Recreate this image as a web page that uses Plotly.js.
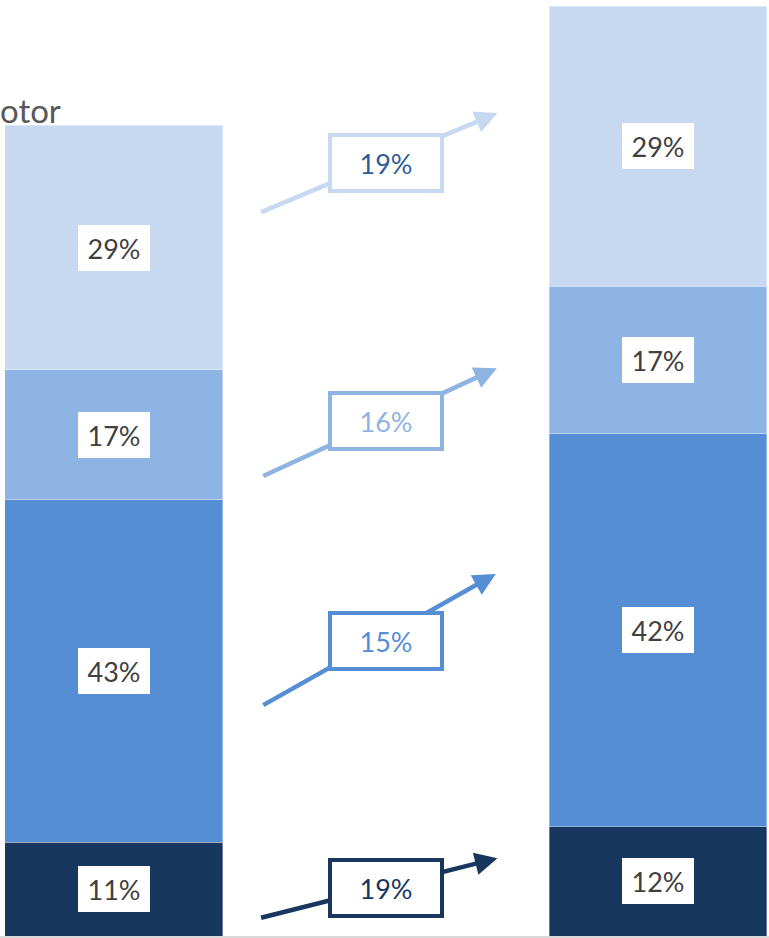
<!DOCTYPE html>
<html><head><meta charset="utf-8">
<script src="https://cdn.plot.ly/plotly-3.0.1.min.js"></script>
<style>html,body{margin:0;padding:0;background:#fff;}#chart{width:769px;height:938px;}</style>
</head><body><div id="chart"></div>
<script>
// ---- data ----
const categories = ['Period 1', 'Period 2'];
const seriesNames = ['Segment D', 'Segment C', 'Segment B', 'Segment A']; // bottom -> top
const valuesP1 = [11.6, 42.3, 16.0, 30.2];
const valuesP2 = [13.5, 48.6, 18.1, 34.6];
const shareLabelsP1 = ['11%', '43%', '17%', '29%'];
const shareLabelsP2 = ['12%', '42%', '17%', '29%'];
const growthLabels = ['19%', '15%', '16%', '19%'];
const titleText = 'otor';

// ---- styles ----
const colors = ['#17375E', '#558ED5', '#8EB4E3', '#C6D9F1'];
const growthTextColors = ['#17375E', '#558ED5', '#8EB4E3', '#2E5C99'];
const FONT = 'Lato, "Open Sans", sans-serif';

const traces = seriesNames.map((name, i) => ({
  type: 'bar',
  name: name,
  x: categories,
  y: [valuesP1[i], valuesP2[i]],
  marker: {color: colors[i], line: {width: 0.6, color: 'rgba(255,255,255,0.6)'}},
  width: 0.4,
  hoverinfo: 'none'
}));

const annotations = [];
// share labels centered in segments
[[valuesP1, shareLabelsP1, 0], [valuesP2, shareLabelsP2, 1]].forEach(([vals, labs, xi]) => {
  let cum = 0;
  vals.forEach((v, i) => {
    annotations.push({
      x: categories[xi], y: cum + v / 2, xref: 'x', yref: 'y',
      text: labs[i], showarrow: false,
      font: {family: FONT, size: 27, color: '#404040'},
      bgcolor: '#ffffff', width: 64, height: 38, borderpad: 4, borderwidth: 0
    });
    cum += v;
  });
});

// growth arrows (layout positions in axis units), bottom -> top
const arrowGeom = [
  {x0: 0.268, y0: 2.2, x1: 0.705, y1: 9.6, ly: 5.9},
  {x0: 0.272, y0: 28.4, x1: 0.702, y1: 44.7, ly: 36.4},
  {x0: 0.272, y0: 56.7, x1: 0.704, y1: 70.1, ly: 63.6},
  {x0: 0.268, y0: 89.3, x1: 0.705, y1: 101.6, ly: 95.4}
];
arrowGeom.forEach((g, i) => {
  annotations.push({
    x: g.x1, y: g.y1, ax: g.x0, ay: g.y0, xref: 'x', yref: 'y', axref: 'x', ayref: 'y',
    text: '', showarrow: true, arrowhead: 2, arrowsize: 1, arrowwidth: 4.5, arrowcolor: colors[i],
    standoff: 0, startstandoff: 0
  });
  annotations.push({
    x: 0.5, y: g.ly, xref: 'x', yref: 'y',
    text: growthLabels[i], showarrow: false,
    font: {family: FONT, size: 27, color: growthTextColors[i]},
    bgcolor: '#ffffff', bordercolor: colors[i], borderwidth: 4, borderpad: 4,
    width: 100, height: 44
  });
});

annotations.push({
  xref: 'paper', yref: 'paper', x: -0.003, y: 1, xanchor: 'left', yanchor: 'top', yshift: -88,
  text: titleText, showarrow: false,
  font: {family: FONT, size: 33, color: '#595959'}
});

const layout = {
  width: 769, height: 938,
  margin: {l: 0, r: 0, t: 0, b: 2, pad: 0},
  paper_bgcolor: '#ffffff', plot_bgcolor: '#ffffff',
  barmode: 'stack', showlegend: false,
  xaxis: {type: 'category', range: [-0.209, 1.204], showticklabels: false, ticks: '',
          showgrid: false, zeroline: false, showline: true, linecolor: '#D9D9D9', linewidth: 1.5},
  yaxis: {range: [0, 115.56], showticklabels: false, showgrid: false, zeroline: false, ticks: ''},
  annotations: annotations
};

Plotly.newPlot('chart', traces, layout, {displayModeBar: false, staticPlot: true});
</script></body></html>
